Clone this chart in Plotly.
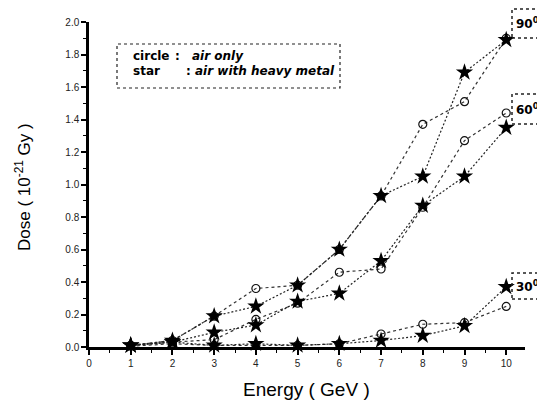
import plotly.graph_objects as go

energy = [1, 2, 3, 4, 5, 6, 7, 8, 9, 10]

# air only (circle)
circle_90 = [0.01, 0.04, 0.19, 0.36, 0.38, 0.60, 0.93, 1.37, 1.51, 1.90]
circle_60 = [0.01, 0.03, 0.045, 0.17, 0.27, 0.46, 0.48, 0.86, 1.27, 1.44]
circle_30 = [0.005, 0.02, 0.01, 0.01, 0.01, 0.02, 0.08, 0.14, 0.15, 0.25]
# air with heavy metal (star)
star_90 = [0.01, 0.04, 0.19, 0.25, 0.38, 0.60, 0.93, 1.05, 1.69, 1.89]
star_60 = [0.01, 0.03, 0.09, 0.135, 0.28, 0.33, 0.53, 0.87, 1.05, 1.35]
star_30 = [0.01, 0.03, 0.01, 0.02, 0.01, 0.02, 0.04, 0.07, 0.13, 0.37]

y_ticks = [0.0, 0.2, 0.4, 0.6, 0.8, 1.0, 1.2, 1.4, 1.6, 1.8, 2.0]
y_tick_labels = ["0.0", "0.2", "0.4", "0.6", "0.8", "1.0", "1.2", "1.4", "1.6", "1.8", "2.0"]
x_ticks = [0, 1, 2, 3, 4, 5, 6, 7, 8, 9, 10]

angle_labels = ["90", "60", "30"]

fig = go.Figure()

for ys in [circle_90, circle_60, circle_30]:
    fig.add_trace(go.Scatter(
        x=energy, y=ys, mode="lines+markers",
        line=dict(color="#333", width=1.2, dash="dot"),
        marker=dict(symbol="circle-open", size=8, color="#111", line=dict(width=1.2, color="#111")),
        showlegend=False, cliponaxis=False))

for ys in [star_90, star_60, star_30]:
    fig.add_trace(go.Scatter(
        x=energy, y=ys, mode="lines+markers",
        line=dict(color="#222", width=1.2, dash="2px,2px"),
        marker=dict(symbol="star", size=13, color="#000", line=dict(width=0)),
        showlegend=False, cliponaxis=False))

# page geometry (the page has an 8px body margin)
OFF = 8
W, H = 545 - OFF, 401 - OFF
PL, PR, PT, PB = 89, 525, 22, 347          # plot area in page pixels
pw, ph = PR - PL, PB - PT

def px(x):
    return (x - PL) / pw

def py(y):
    return (PB - y) / ph

shapes = []
annotations = []

# legend box
shapes.append(dict(type="rect", xref="paper", yref="paper",
                   x0=px(117), x1=px(340), y0=py(88), y1=py(44),
                   line=dict(color="#222", width=1.2, dash="dot")))
font_b = dict(family="DejaVu Sans, sans-serif", size=12, color="#000")
for txt, x, y in [("<b>circle</b>", 131, 56), ("<b>:</b>", 173, 56), ("<b><i>air only</i></b>", 190, 56),
                  ("<b>star</b>", 131, 71), ("<b>:</b>", 184, 71), ("<b><i>air with heavy metal</i></b>", 193, 71)]:
    annotations.append(dict(text=txt, xref="paper", yref="paper", x=px(x), y=py(y),
                            xanchor="left", yanchor="middle", showarrow=False, font=font_b))

# angle label boxes
for lab, (top, bot) in zip(angle_labels, [(9, 38), (94, 124), (273, 299)]):
    shapes.append(dict(type="rect", xref="paper", yref="paper",
                       x0=px(512), x1=px(548), y0=py(bot), y1=py(top),
                       line=dict(color="#222", width=1.5, dash="dot")))
    annotations.append(dict(text="<b>" + lab + "<sup>0</sup></b>", xref="paper", yref="paper",
                            x=px(514), y=py((top + bot) / 2), xanchor="left", yanchor="middle",
                            showarrow=False,
                            font=dict(family="DejaVu Sans, sans-serif", size=12, color="#000")))

# axis titles
annotations.append(dict(text="Dose ( 10<sup>-21</sup> Gy )", xref="paper", yref="paper",
                        x=px(23), y=py(187), textangle=-90, showarrow=False,
                        xanchor="center", yanchor="middle",
                        font=dict(family="Arial, Liberation Sans, sans-serif", size=17, color="#000")))
annotations.append(dict(text="Energy ( GeV )", xref="paper", yref="paper",
                        x=px(306), y=py(389), showarrow=False,
                        xanchor="center", yanchor="middle",
                        font=dict(family="Arial, Liberation Sans, sans-serif", size=19, color="#000")))

tick_font = dict(family="Arial, Liberation Sans, sans-serif", size=10, color="#222")

fig.update_layout(
    width=W, height=H,
    margin=dict(l=PL - OFF, r=545 - PR, t=PT - OFF, b=401 - PB),
    paper_bgcolor="white", plot_bgcolor="white",
    shapes=shapes, annotations=annotations,
    xaxis=dict(range=[0, 10.45], tickvals=x_ticks, ticktext=[str(v) for v in x_ticks],
               showgrid=False, zeroline=False, showline=True, linecolor="#000", linewidth=2.5,
               ticks="outside", ticklen=5, tickwidth=1.5, tickcolor="#000", tickfont=tick_font,
               minor=dict(dtick=0.5, tick0=0, ticks="outside", ticklen=3, tickwidth=1, tickcolor="#000"),
               fixedrange=True, automargin=False),
    yaxis=dict(range=[0, 2.0], tickvals=y_ticks, ticktext=y_tick_labels,
               showgrid=False, zeroline=False, showline=True, linecolor="#000", linewidth=2.5,
               ticks="outside", ticklen=5, tickwidth=1.5, tickcolor="#000", tickfont=tick_font,
               minor=dict(dtick=0.1, tick0=0, ticks="outside", ticklen=3, tickwidth=1, tickcolor="#000"),
               fixedrange=True, automargin=False),
)

fig.write_html("out.html")
